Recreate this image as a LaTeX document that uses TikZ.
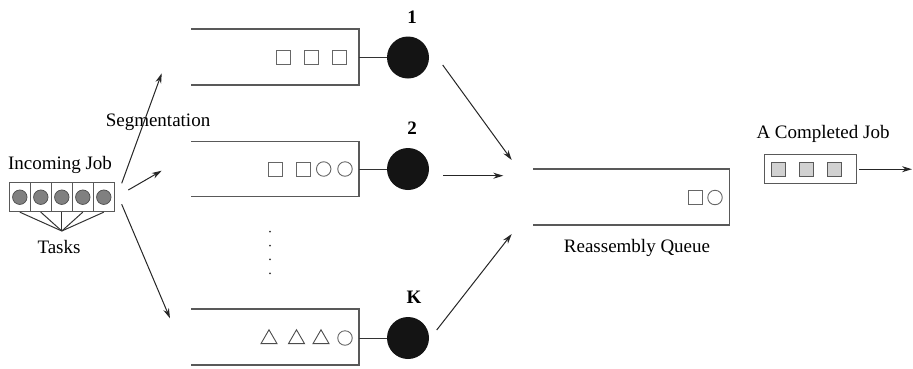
\documentclass[tikz,border=0pt]{standalone}
\usepackage{fontspec}
\setmainfont{Liberation Serif}
\usetikzlibrary{arrows.meta,shapes.geometric}
\begin{document}
\begin{tikzpicture}[x=1pt,y=-1pt,
  queueline/.style={draw=black!65, line width=1.2pt},
  link/.style={draw=black!80, line width=1pt},
  server/.style={circle, fill=black!92, minimum size=42pt, inner sep=0pt},
  sq/.style={draw=black!60, line width=0.9pt, minimum size=14pt, inner sep=0pt},
  ci/.style={circle, draw=black!60, line width=0.9pt, minimum size=14.5pt, inner sep=0pt},
  tri/.style={regular polygon, regular polygon sides=3, draw=black!70, line width=0.9pt, minimum size=18.5pt, inner sep=0pt},
  cell/.style={draw=black!65, line width=0.9pt, minimum width=21pt, minimum height=29pt, inner sep=0pt},
  task/.style={circle, draw=black!70, fill=black!50, line width=0.7pt, minimum size=14.5pt, inner sep=0pt},
  done/.style={draw=black!65, fill=black!18, line width=0.9pt, minimum size=14pt, inner sep=0pt},
  arr/.style={-{Stealth[length=10pt,width=6pt]}, line width=1pt, draw=black!85},
  lbl/.style={font=\fontsize{19}{22}\selectfont, inner sep=0pt},
  slbl/.style={font=\fontsize{19}{22}\selectfont\bfseries, inner sep=0pt}]
\useasboundingbox (0,0) rectangle (913,368);

% ---------- Incoming job ----------
\node[lbl] (inlbl) at (60,165) {Incoming Job};
\foreach \i in {1,...,5} {
  \node[cell] (c\i) at ({-1.2+21*\i},197.2) {};
  \node[task] (t\i) at (c\i.center) {};
}
\coordinate (tj) at (61.8,231);
\foreach \i in {1,...,5} { \draw[link] (c\i.south) -- (tj); }
\node[lbl] (tasks) at (59,247) {Tasks};

% ---------- Segmentation ----------
\node[lbl] (seg) at (158,122) {Segmentation};
\coordinate (sa1) at (121.7,183.3); \coordinate (sb1) at (161.7,73.3);
\coordinate (sa2) at (128.3,190);   \coordinate (sb2) at (161.7,170.7);
\coordinate (sa3) at (121.7,204.3); \coordinate (sb3) at (170,318.3);
\draw[arr] (sa1) -- (sb1);
\draw[arr] (sa2) -- (sb2);
\draw[arr] (sa3) -- (sb3);

% ---------- Queue 1 ----------
\coordinate (q1a) at (191,29); \coordinate (q1b) at (359,29);
\coordinate (q1c) at (359,85); \coordinate (q1d) at (191,85);
\draw[queueline] (q1a) -- (q1b) -- (q1c) -- (q1d);
\coordinate (q1r) at (359,57.5);
\node[sq] (q1s1) at (283,57) {};
\node[sq] (q1s2) at (311,57) {};
\node[sq] (q1s3) at (339,57) {};
\node[server] (s1) at (408,57.5) {};
\node[slbl] (n1) at (412,17) {1};
\draw[link] (q1r) -- (s1);

% ---------- Queue 2 ----------
\coordinate (q2a) at (191,141.7); \coordinate (q2b) at (359,141.7);
\coordinate (q2c) at (359,196.7); \coordinate (q2d) at (191,196.7);
\draw[queueline] (q2a) -- (q2b) -- (q2c) -- (q2d);
\coordinate (q2r) at (359,169);
\node[sq] (q2s1) at (275,169) {};
\node[sq] (q2s2) at (303,169) {};
\node[ci] (q2c1) at (323.7,169) {};
\node[ci] (q2c2) at (345,169) {};
\node[server] (s2) at (408,169) {};
\node[slbl] (n2) at (412,128) {2};
\draw[link] (q2r) -- (s2);

% ---------- dots ----------
\foreach \y [count=\k] in {231.7,245.7,259.3,273.3} {
  \node[circle, fill=black!80, minimum size=2pt, inner sep=0pt] (dot\k) at (270,\y) {};
}

% ---------- Queue K ----------
\coordinate (qka) at (191,309); \coordinate (qkb) at (359,309);
\coordinate (qkc) at (359,365); \coordinate (qkd) at (191,365);
\draw[queueline] (qka) -- (qkb) -- (qkc) -- (qkd);
\coordinate (qkr) at (359,338);
\node[tri] (qkt1) at (269,339) {};
\node[tri] (qkt2) at (296.5,339) {};
\node[tri] (qkt3) at (321,339) {};
\node[ci] (qkc1) at (345,338) {};
\node[server] (sK) at (408,338) {};
\node[slbl] (nK) at (414,297) {K};
\draw[link] (qkr) -- (sK);

% ---------- to reassembly ----------
\coordinate (ra1) at (442.7,65);    \coordinate (rb1) at (511.7,160);
\coordinate (ra2) at (443.3,175.7); \coordinate (rb2) at (503.3,175.7);
\coordinate (ra3) at (436.7,330);   \coordinate (rb3) at (511.7,234);
\draw[arr] (ra1) -- (rb1);
\draw[arr] (ra2) -- (rb2);
\draw[arr] (ra3) -- (rb3);

% ---------- Reassembly queue ----------
\coordinate (ma) at (533,169); \coordinate (mb) at (729.3,169);
\coordinate (mc) at (729.3,225); \coordinate (md) at (533,225);
\draw[queueline] (ma) -- (mb) -- (mc) -- (md);
\node[sq] (ms1) at (695,197.5) {};
\node[ci] (mc1) at (715,197.5) {};
\node[lbl] (mlbl) at (637,248) {Reassembly Queue};

% ---------- Completed job ----------
\node[lbl] (clbl) at (823,134) {A Completed Job};
\node[draw=black!65, line width=1pt, minimum width=92pt, minimum height=28.5pt, inner sep=0pt] (cbox) at (810.2,169.2) {};
\node[done] (d1) at (778,169.5) {};
\node[done] (d2) at (806,169.5) {};
\node[done] (d3) at (834,169.5) {};
\coordinate (out) at (912,169.2);
\draw[arr] (cbox.east) ++(2.3,0) coordinate (cout) -- (out);
\end{tikzpicture}
\end{document}
